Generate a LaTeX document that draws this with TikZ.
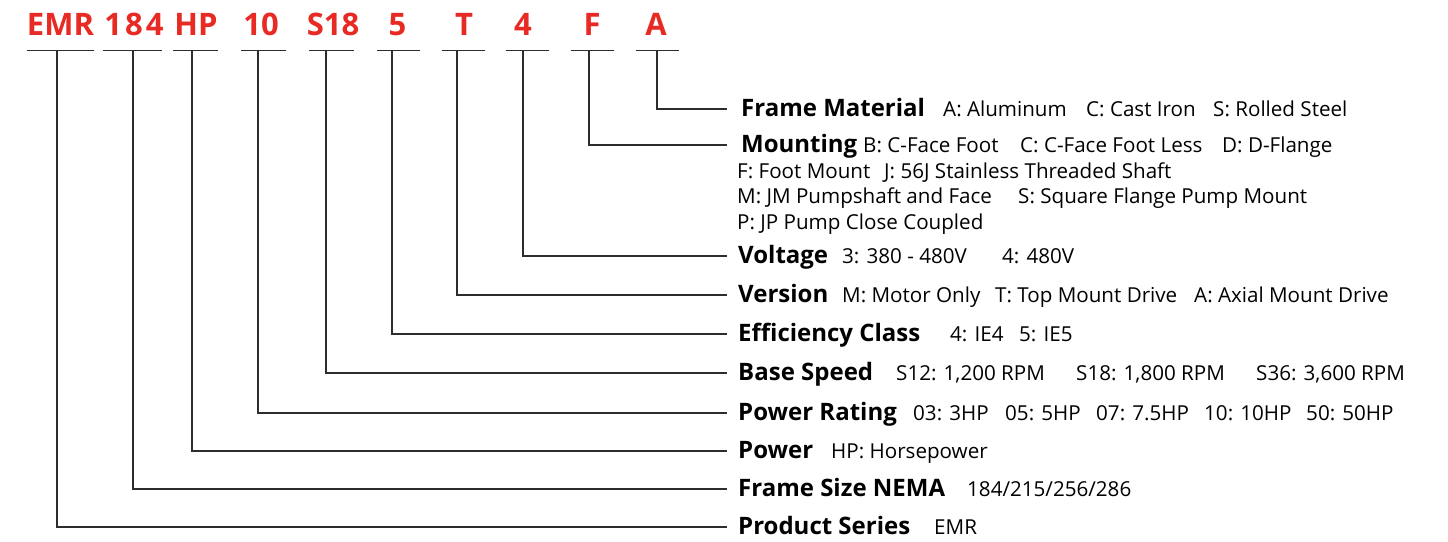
\documentclass[tikz,border=0pt]{standalone}
\usepackage{fontspec}
\setmainfont{Open Sans}
\definecolor{codered}{RGB}{232,42,36}
\definecolor{linegray}{RGB}{45,45,45}
\tikzset{
  code/.style={text=codered, font=\fontsize{31}{31}\selectfont\bfseries, anchor=base, inner sep=0pt},
  lbl/.style={font=\fontsize{24}{24}\selectfont\bfseries, anchor=base west, inner sep=0pt, text=black},
  dsc/.style={font=\fontsize{20.6}{20.6}\selectfont, anchor=base west, inner sep=0pt, text=black},
  wire/.style={draw=linegray, line width=1.5pt},
}
\begin{document}
\begin{tikzpicture}[x=1pt,y=-1pt]
\useasboundingbox (0,0) rectangle (1448,541);
% codes: name/text/center/underline-left/underline-right/tap x/line y
\foreach \n/\t/\cx/\ul/\ur/\vx/\ly in {
  emr/EMR/60.5/27/94/57/527,
  f184/{1\kern3pt8\kern3pt4}/134/103/162/133/489,
  hp/HP/196/173/218/192/451,
  p10/10/261/241/286/258/413,
  s18/S18/333/309/354/326/373,
  e5/5/397.5/377/420/392/334,
  vt/T/464/442/485/457/295,
  v4/4/523/506/549/523/256,
  mf/F/592/571/614/589/145,
  ma/A/656/636/679/657/109}{
  \node[code] (\n) at (\cx,35) {\t};
  \coordinate (\n-l) at (\ul,50.5);
  \coordinate (\n-r) at (\ur,50.5);
  \coordinate (\n-t) at (\vx,50.5);
  \coordinate (\n-e) at (727,\ly);
  \draw[wire] (\n-l) -- (\n-r);
  \draw[wire] (\n-t) |- (\n-e);
}
% labels
\node[lbl] (L-fm) at (741,116) {Frame Material};
\node[lbl] (L-mt) at (741,152) {Mounting};
\node[lbl] (L-vo) at (738,263) {Voltage};
\node[lbl] (L-ve) at (738,302) {Version};
\node[lbl] (L-ef) at (738,341) {Efficiency Class};
\node[lbl] (L-bs) at (738,380) {Base Speed};
\node[lbl] (L-pr) at (738,420) {Power Rating};
\node[lbl] (L-pw) at (738,458) {Power};
\node[lbl] (L-fs) at (738,496) {Frame Size NEMA};
\node[lbl] (L-ps) at (738,534) {Product Series};
% descriptions
\foreach \x/\t [count=\i] in {943/{A: Aluminum}, 1086/{C: Cast Iron}, 1213/{S: Rolled Steel}}
  \node[dsc] (D-fm-\i) at (\x,116) {\t};
\foreach \x/\t [count=\i] in {863/{B: C-Face Foot}, 1020/{C: C-Face Foot Less}, 1222/{D: D-Flange}}
  \node[dsc] (D-mt-\i) at (\x,152) {\t};
\foreach \x/\t [count=\i] in {737/{F: Foot Mount}, 884/{J: 56J Stainless Threaded Shaft}}
  \node[dsc] (D-mtb-\i) at (\x,178) {\t};
\foreach \x/\t [count=\i] in {737/{M: JM Pumpshaft and Face}, 1018/{S: Square Flange Pump Mount}}
  \node[dsc] (D-mtc-\i) at (\x,203) {\t};
\node[dsc] (D-mtd-1) at (737,229) {P: JP Pump Close Coupled};
\foreach \x/\t [count=\i] in {842/{3: 380 - 480V}, 1002/{4: 480V}}
  \node[dsc] (D-vo-\i) at (\x,263) {\t};
\foreach \x/\t [count=\i] in {842/{M: Motor Only}, 995/{T: Top Mount Drive}, 1194/{A: Axial Mount Drive}}
  \node[dsc] (D-ve-\i) at (\x,302) {\t};
\foreach \x/\t [count=\i] in {950/{4: IE4}, 1019/{5: IE5}}
  \node[dsc] (D-ef-\i) at (\x,341) {\t};
\foreach \x/\t [count=\i] in {896/{S12: 1,200 RPM}, 1076/{S18: 1,800 RPM}, 1256/{S36: 3,600 RPM}}
  \node[dsc] (D-bs-\i) at (\x,380) {\t};
\foreach \x/\t [count=\i] in {913/{03: 3HP}, 1005/{05: 5HP}, 1096/{07: 7.5HP}, 1204/{10: 10HP}, 1306/{50: 50HP}}
  \node[dsc] (D-pr-\i) at (\x,420) {\t};
\node[dsc] (D-pw-1) at (831,458) {HP: Horsepower};
\node[dsc] (D-fs-1) at (967,496) {184/215/256/286};
\node[dsc] (D-ps-1) at (934,534) {EMR};
\end{tikzpicture}
\end{document}
